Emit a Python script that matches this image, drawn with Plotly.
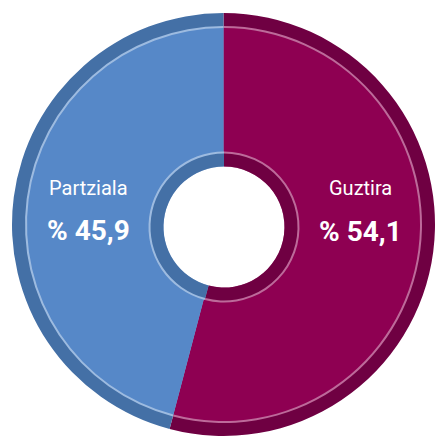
import plotly.graph_objects as go

# Data
categories = ["Guztira", "Partziala"]
values = [54.1, 45.9]
value_labels = ["% 54,1", "% 45,9"]

W, H = 435, 437

main_colors = ["#8E0052", "#5688C8"]
dark_colors = ["#6F0042", "#4470A6"]
line_colors = ["#BD6A9A", "#9DBBE0"]


def dom(cx, cy, r):
    x0 = max(0.0, (cx - r) / W)
    x1 = min(1.0, (cx + r) / W)
    y0 = max(0.0, 1 - (cy + r) / H)
    y1 = min(1.0, 1 - (cy - r) / H)
    return dict(x=[x0, x1], y=[y0, y1])


def ring(cx, cy, r, colors, hole_r):
    return go.Pie(
        labels=categories, values=values, sort=False, direction="clockwise",
        rotation=0, hole=hole_r / r, domain=dom(cx, cy, r),
        marker=dict(colors=colors, line=dict(width=0)),
        textinfo="none", hoverinfo="label+value", showlegend=False,
    )


OX, OY = 223.5, 224.5
IX, IY = 224, 227

fig = go.Figure()
fig.add_trace(ring(OX, OY, 211.5, dark_colors, 66))
fig.add_trace(ring(OX, OY, 198.5, line_colors, 66))
fig.add_trace(ring(OX, OY, 196.5, main_colors, 66))
fig.add_trace(ring(IX, IY, 75.5, line_colors, 60.5))
fig.add_trace(ring(IX, IY, 73.5, dark_colors, 60.5))

font_family = "Roboto, Liberation Sans, sans-serif"
label_pos = {"Guztira": (360.5, 188), "Partziala": (88, 188)}
value_pos = {"Guztira": (360, 231.5), "Partziala": (88.5, 231)}


def px(x, y):
    return x / W, 1 - y / H


for cat, vl in zip(categories, value_labels):
    lx, ly = px(*label_pos[cat])
    vx, vy = px(*value_pos[cat])
    fig.add_annotation(x=lx, y=ly, xref="paper", yref="paper",
                       text=cat, showarrow=False, xanchor="center", yanchor="middle",
                       font=dict(family=font_family, size=20, color="white"))
    fig.add_annotation(x=vx, y=vy, xref="paper", yref="paper",
                       text="<b>" + vl + "</b>", showarrow=False, xanchor="center", yanchor="middle",
                       font=dict(family=font_family, size=28, color="white"))

fig.update_layout(
    width=W, height=H,
    margin=dict(l=0, r=0, t=0, b=0),
    paper_bgcolor="white", plot_bgcolor="white",
)

fig.write_html(
    "out.html",
    config={"displayModeBar": False},
    post_script="document.body.style.margin='0';document.documentElement.style.overflow='hidden';document.body.style.overflow='hidden';",
)
